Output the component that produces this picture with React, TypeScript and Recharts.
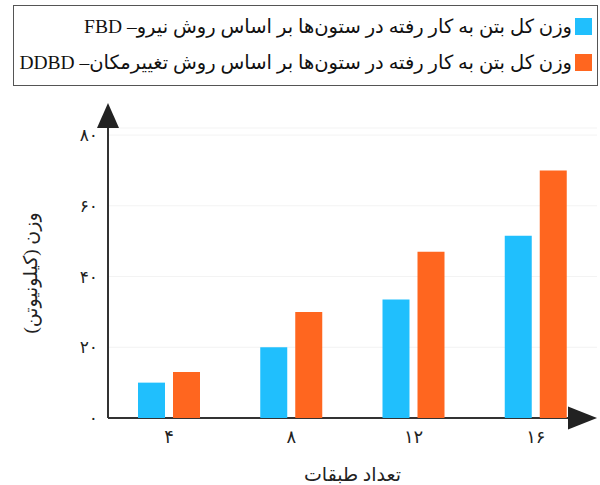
import React from "react";
import { BarChart, Bar, XAxis, YAxis, CartesianGrid, Legend, usePlotArea } from "recharts";

const floors = [4, 8, 12, 16];
const fbdWeight = [10, 20, 33.5, 51.5];
const ddbdWeight = [13, 30, 47, 70];
const yTicks = [0, 20, 40, 60, 80];

const seriesNames = [
  "وزن کل بتن به کار رفته در ستون‌ها بر اساس روش نیرو– FBD",
  "وزن کل بتن به کار رفته در ستون‌ها بر اساس روش تغییرمکان– DDBD",
];
const seriesColors = ["#20bffd", "#ff661f"];

const data = floors.map((f, i) => ({ floor: f, fbd: fbdWeight[i], ddbd: ddbdWeight[i] }));

const faDigits = (v: number | string) => String(v).replace(/[0-9]/g, (d) => "۰۱۲۳۴۵۶۷۸۹"[+d]);

const font = "'Liberation Serif', 'DejaVu Sans', serif";

function Arrows() {
  const area = usePlotArea();
  if (!area) return null;
  const { x, y, width, height } = area;
  const bottom = y + height;
  const right = x + width;
  return (
    <g fill="#222">
      <line x1={x} y1={bottom} x2={x} y2={y} stroke="#333" strokeWidth={2} />
      <line x1={x} y1={bottom} x2={right - 28} y2={bottom} stroke="#333" strokeWidth={2} />
      <polygon points={`${x - 11},${y} ${x + 11},${y} ${x},${y - 25}`} />
      <polygon points={`${right - 29},${bottom - 11.5} ${right - 29},${bottom + 11.5} ${right},${bottom}`} />
    </g>
  );
}

function LegendBox() {
  return (
    <div
      style={{
        boxSizing: "border-box",
        width: 585,
        height: 81,
        border: "1.5px solid #555",
        fontFamily: font,
        fontSize: 19.5,
        color: "#111",
        paddingTop: 2,
        paddingRight: 5,
      }}
    >
      {seriesNames.map((name, i) => (
        <div
          key={name}
          style={{ direction: "rtl", display: "flex", alignItems: "center", height: 36 }}
        >
          <span style={{ width: 17, height: 17, background: seriesColors[i], marginLeft: 3, flex: "none" }} />
          <span style={{ whiteSpace: "nowrap" }}>{name}</span>
        </div>
      ))}
    </div>
  );
}

export default function App() {
  return (
    <div style={{ position: "absolute", left: 0, top: 0, width: 600, height: 485, background: "#fff" }}>
      <BarChart
        width={600}
        height={485}
        data={data}
        margin={{ top: 128, right: 3, bottom: 0, left: 0 }}
        barSize={27}
        barGap={8}
      >
        <CartesianGrid horizontal vertical={false} stroke="#f3f3f3" />
        <XAxis
          dataKey="floor"
          height={67}
          axisLine={false}
          tickLine={false}
          tickSize={0}
          tickMargin={12}
          tickFormatter={faDigits}
          tick={{ fill: "#222", fontSize: 18, fontFamily: font }}
          label={{
            value: "تعداد طبقات",
            position: "insideBottom",
            offset: 4,
            fill: "#222",
            fontSize: 19,
            fontFamily: font,
          }}
        />
        <YAxis
          width={108}
          domain={[0, 82]}
          ticks={yTicks}
          axisLine={false}
          tickLine={false}
          tickSize={0}
          tickMargin={10}
          tickFormatter={faDigits}
          tick={{ fill: "#222", fontSize: 17, fontFamily: font }}
          label={{
            value: "وزن (کیلونیوتن)",
            angle: -90,
            position: "center",
            dx: -24,
            fill: "#222",
            fontSize: 19,
            fontFamily: font,
          }}
        />
        <Bar dataKey="fbd" name={seriesNames[0]} fill={seriesColors[0]} isAnimationActive={false} />
        <Bar dataKey="ddbd" name={seriesNames[1]} fill={seriesColors[1]} isAnimationActive={false} />
        <Legend
          layout="vertical"
          align="center"
          verticalAlign="middle"
          wrapperStyle={{ top: 5, left: 13, width: 585, height: 81 }}
          content={() => <LegendBox />}
        />
        <Arrows />
      </BarChart>
    </div>
  );
}
